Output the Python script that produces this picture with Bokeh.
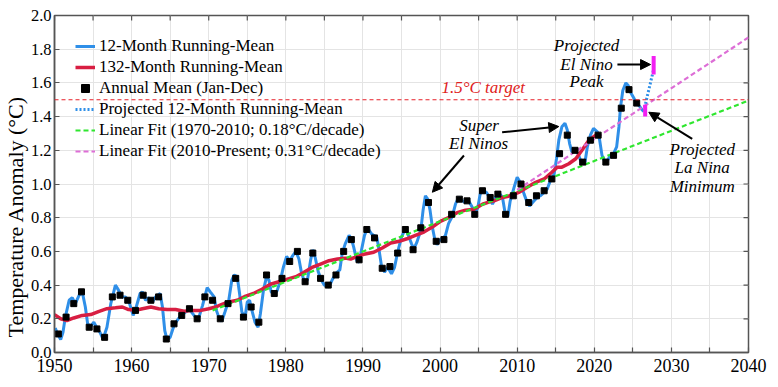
import math
from bokeh.plotting import figure
from bokeh.models import (Range1d, FixedTicker, PrintfTickFormatter, Title,
                          Label, Arrow, NormalHead, Span, Legend, LegendItem)
from bokeh.embed import file_html
from bokeh.resources import INLINE

# ---------------- data ----------------
years = list(range(1950, 2026))
annual_mean = [0.11, 0.21, 0.29, 0.36, 0.15, 0.14, 0.09, 0.33, 0.34, 0.31,
               0.25, 0.34, 0.31, 0.33, 0.08, 0.17, 0.22, 0.26, 0.20, 0.33,
               0.31, 0.20, 0.29, 0.44, 0.21, 0.27, 0.18, 0.46, 0.35, 0.44,
               0.54, 0.60, 0.42, 0.59, 0.44, 0.40, 0.46, 0.60, 0.67, 0.55,
               0.73, 0.68, 0.50, 0.51, 0.59, 0.73, 0.61, 0.74, 0.89, 0.66,
               0.67, 0.82, 0.91, 0.90, 0.82, 0.96, 0.92, 0.94, 0.82, 0.93,
               1.00, 0.89, 0.93, 0.96, 1.03, 1.18, 1.29, 1.20, 1.13, 1.26,
               1.29, 1.13, 1.17, 1.45, 1.56, 1.48]

run12_t = [1950.1, 1950.4, 1950.8, 1951.1, 1951.4, 1951.9, 1952.3, 1952.7, 1953.2, 1953.6,
           1954.0, 1954.3, 1954.7, 1955.1, 1955.5, 1955.9, 1956.3, 1956.8, 1957.3, 1957.9,
           1958.3, 1958.8, 1959.2, 1959.6, 1960.2, 1960.6, 1961.1, 1961.4, 1961.8, 1962.2,
           1962.7, 1963.1, 1963.7, 1964.0, 1964.3, 1964.6, 1965.0, 1965.5, 1965.9, 1966.4,
           1967.0, 1967.5, 1968.1, 1968.6, 1969.2, 1969.8, 1970.2, 1970.7, 1971.0, 1971.3,
           1971.7, 1972.1, 1972.6, 1973.0, 1973.3, 1973.7, 1974.0, 1974.3, 1974.7, 1975.0,
           1975.3, 1975.6, 1976.0, 1976.4, 1976.7, 1977.1, 1977.5, 1977.8, 1978.1, 1978.5,
           1978.9, 1979.3, 1979.7, 1980.1, 1980.5, 1980.9, 1981.3, 1981.7, 1982.0, 1982.4,
           1982.8, 1983.2, 1983.5, 1983.8, 1984.2, 1984.6, 1985.0, 1985.6, 1986.0, 1986.5,
           1987.0, 1987.3, 1987.7, 1988.2, 1988.5, 1988.8, 1989.2, 1989.5, 1989.8, 1990.2,
           1990.6, 1991.1, 1991.4, 1991.8, 1992.1, 1992.4, 1992.8, 1993.2, 1993.7, 1994.1,
           1994.5, 1995.0, 1995.5, 1995.9, 1996.3, 1996.6, 1997.0, 1997.5, 1997.8, 1998.1,
           1998.4, 1998.7, 1999.0, 1999.3, 1999.6, 1999.9, 2000.3, 2000.7, 2001.1, 2001.6,
           2002.0, 2002.4, 2002.9, 2003.3, 2003.7, 2004.2, 2004.5, 2004.9, 2005.2, 2005.6,
           2006.0, 2006.3, 2006.8, 2007.2, 2007.6, 2008.1, 2008.5, 2008.8, 2009.1, 2009.6,
           2010.0, 2010.4, 2010.9, 2011.3, 2011.6, 2012.2, 2012.6, 2013.0, 2013.5, 2013.9,
           2014.3, 2014.8, 2015.1, 2015.4, 2015.8, 2016.2, 2016.5, 2016.8, 2017.1, 2017.5,
           2017.9, 2018.3, 2018.8, 2019.1, 2019.5, 2019.9, 2020.4, 2020.7, 2021.0, 2021.4,
           2021.7, 2022.1, 2022.5, 2022.9, 2023.2, 2023.4, 2023.7, 2024.1, 2024.4, 2024.7,
           2025.2, 2025.6, 2025.9, 2026.2, 2026.4]
run12_v = [0.145, 0.11, 0.077, 0.12, 0.21, 0.31, 0.325, 0.29, 0.34, 0.36,
           0.27, 0.17, 0.155, 0.18, 0.146, 0.12, 0.08, 0.15, 0.29, 0.40,
           0.37, 0.33, 0.33, 0.31, 0.22, 0.27, 0.35, 0.36, 0.31, 0.325,
           0.30, 0.33, 0.35, 0.27, 0.13, 0.075, 0.09, 0.16, 0.19, 0.22,
           0.24, 0.255, 0.22, 0.19, 0.28, 0.385, 0.36, 0.33, 0.25, 0.21,
           0.185, 0.24, 0.31, 0.43, 0.46, 0.45, 0.35, 0.24, 0.21, 0.30,
           0.31, 0.25, 0.18, 0.15, 0.23, 0.37, 0.45, 0.43, 0.36, 0.34,
           0.37, 0.43, 0.51, 0.57, 0.545, 0.575, 0.60, 0.555, 0.48, 0.42,
           0.43, 0.545, 0.61, 0.565, 0.48, 0.43, 0.40, 0.39, 0.43, 0.47,
           0.49, 0.585, 0.645, 0.695, 0.675, 0.625, 0.545, 0.535, 0.605, 0.695,
           0.74, 0.705, 0.695, 0.685, 0.605, 0.515, 0.477, 0.506, 0.467, 0.506,
           0.595, 0.685, 0.735, 0.695, 0.645, 0.615, 0.655, 0.725, 0.845, 0.93,
           0.91, 0.845, 0.745, 0.675, 0.64, 0.665, 0.675, 0.695, 0.765, 0.81,
           0.88, 0.92, 0.90, 0.89, 0.90, 0.86, 0.82, 0.86, 0.94, 0.96,
           0.95, 0.93, 0.88, 0.92, 0.95, 0.92, 0.81, 0.81, 0.90, 0.98,
           1.04, 1.01, 0.94, 0.89, 0.87, 0.90, 0.92, 0.93, 0.95, 0.97,
           1.02, 1.06, 1.15, 1.26, 1.34, 1.36, 1.32, 1.24, 1.19, 1.20,
           1.18, 1.13, 1.13, 1.22, 1.29, 1.33, 1.31, 1.26, 1.17, 1.13,
           1.14, 1.17, 1.18, 1.22, 1.34, 1.455, 1.555, 1.60, 1.585, 1.545,
           1.505, 1.475, 1.46, 1.44, 1.43]

run132_t = [1950.0, 1950.8, 1951.6, 1952.5, 1953.6, 1954.7, 1955.7, 1956.8, 1957.9, 1958.8,
            1959.6, 1960.5, 1961.4, 1962.5, 1963.5, 1964.6, 1965.7, 1966.8, 1967.9, 1969.0,
            1970.0, 1970.9, 1971.7, 1972.6, 1973.7, 1974.8, 1975.8, 1976.9, 1978.0, 1979.1,
            1980.2, 1981.3, 1982.3, 1983.4, 1984.5, 1985.6, 1986.7, 1987.7, 1988.4, 1989.3,
            1990.3, 1991.4, 1992.5, 1993.6, 1994.7, 1995.7, 1996.8, 1997.9, 1999.0, 2000.1,
            2001.1, 2002.2, 2003.3, 2004.4, 2005.5, 2006.5, 2007.0, 2008.1, 2009.1, 2010.2,
            2011.3, 2012.4, 2013.5, 2014.5, 2015.2, 2015.8, 2016.7, 2017.6, 2018.4, 2019.3,
            2020.2, 2020.7]
run132_v = [0.225, 0.20, 0.19, 0.205, 0.22, 0.225, 0.243, 0.26, 0.265, 0.27,
            0.255, 0.25, 0.26, 0.27, 0.26, 0.255, 0.255, 0.245, 0.25, 0.25,
            0.26, 0.27, 0.285, 0.30, 0.31, 0.335, 0.35, 0.375, 0.405, 0.42,
            0.435, 0.45, 0.475, 0.505, 0.525, 0.545, 0.555, 0.56, 0.555, 0.57,
            0.585, 0.595, 0.62, 0.65, 0.66, 0.675, 0.695, 0.715, 0.745, 0.78,
            0.80, 0.83, 0.845, 0.85, 0.88, 0.895, 0.90, 0.92, 0.93, 0.95,
            0.98, 1.01, 1.03, 1.07, 1.10, 1.10, 1.12, 1.15, 1.20, 1.26,
            1.29, 1.30]

proj_t = [2026.4, 2027.7]
proj_v = [1.43, 1.68]
fit1970_t = [1970.5, 2040.0]
fit1970_v = [0.25, 1.495]
fit2010_t = [2010.0, 2040.0]
fit2010_v = [0.965, 1.87]
range_t = [2027.7, 2026.6]
range_lo = [1.65, 1.40]
range_hi = [1.76, 1.47]
target = 1.5

x_ticks = list(range(1950, 2041, 5))
x_labels = {t: ("" if t % 10 else str(t)) for t in x_ticks}
y_ticks = [0.0, 0.2, 0.4, 0.6, 0.8, 1.0, 1.2, 1.4, 1.6, 1.8, 2.0]
x_lo, x_hi = 1950, 2040
y_lo, y_hi = 0.0, 2.0

# ---------------- styling ----------------
SERIF = "Liberation Serif"
BLUE = "#2f8fe8"
RED = "#d81e42"
GREEN = "#2fe62f"
PINK = "#dd6ed6"
MAGENTA = "#f21ff2"
FRAME = "#555555"

p = figure(width=778, height=387, output_backend="svg", toolbar_location=None,
           x_range=Range1d(x_lo, x_hi), y_range=Range1d(y_lo, y_hi),
           min_border_left=54, min_border_right=30, min_border_top=15, min_border_bottom=35)
p.background_fill_color = "white"
p.border_fill_color = "white"
p.outline_line_color = FRAME
p.outline_line_width = 1.5

# axes
p.xaxis.ticker = FixedTicker(ticks=x_ticks)
p.xaxis.major_label_overrides = x_labels
p.yaxis.ticker = FixedTicker(ticks=y_ticks)
p.yaxis.formatter = PrintfTickFormatter(format="%.1f")
for ax in (p.xaxis, p.yaxis):
    ax.axis_line_color = FRAME
    ax.axis_line_width = 1.5
    ax.major_tick_line_color = FRAME
    ax.major_tick_line_width = 1.2
    ax.major_tick_in = 5
    ax.major_tick_out = 0
    ax.minor_tick_line_color = None
    ax.major_label_text_font = SERIF
    ax.major_label_text_color = "black"
p.xaxis.major_label_text_font_size = "18px"
p.yaxis.major_label_text_font_size = "16.5px"
p.xaxis.major_label_standoff = 6
p.yaxis.major_label_standoff = 3

# y-axis title, starting a little above the frame bottom as in the reference
p.add_layout(Title(text="Temperature Anomaly (°C)", align="left", offset=15,
                   text_font=SERIF, text_font_style="normal", text_font_size="22px",
                   text_color="black", standoff=-1), "left")

# grid
p.xgrid.ticker = FixedTicker(ticks=x_ticks)
p.ygrid.ticker = FixedTicker(ticks=y_ticks)
p.xgrid.grid_line_color = "#e4e4e4"
p.ygrid.grid_line_color = "#e4e4e4"

# inward tick marks on the top and right frame edges (half of each dash is clipped)
p.scatter(x_ticks, [y_hi] * len(x_ticks), marker="dash", angle=math.pi / 2, size=10,
          line_color=FRAME, line_width=1.2)
p.scatter([x_hi] * len(y_ticks), y_ticks, marker="dash", size=10,
          line_color=FRAME, line_width=1.2)

# target line
p.add_layout(Span(location=target, dimension="width", line_color="#e8202a",
                  line_width=1.2, line_dash="4 3"))

# series
r_blue = p.line(run12_t, run12_v, line_color=BLUE, line_width=3)
r_red = p.line(run132_t, run132_v, line_color=RED, line_width=3.5)
r_green = p.line(fit1970_t, fit1970_v, line_color=GREEN, line_width=2.2, line_dash="5 3")
r_pink = p.line(fit2010_t, fit2010_v, line_color=PINK, line_width=2.2, line_dash="5 3")
r_sq = p.scatter([y + 0.5 for y in years], annual_mean, marker="square", size=6,
                 fill_color="black", line_color="black")
r_proj = p.line(proj_t, proj_v, line_color=BLUE, line_width=3, line_dash="2 2")
p.segment(x0=range_t, y0=range_lo, x1=range_t, y1=range_hi, line_color=MAGENTA, line_width=4)

legend = Legend(items=[
    LegendItem(label="12-Month Running-Mean", renderers=[r_blue]),
    LegendItem(label="132-Month Running-Mean", renderers=[r_red]),
    LegendItem(label="Annual Mean (Jan-Dec)", renderers=[r_sq]),
    LegendItem(label="Projected 12-Month Running-Mean", renderers=[r_proj]),
    LegendItem(label="Linear Fit (1970-2010; 0.18°C/decade)", renderers=[r_green]),
    LegendItem(label="Linear Fit (2010-Present; 0.31°C/decade)", renderers=[r_pink]),
], location="top_left")
legend.margin = 20
legend.padding = 1
legend.spacing = 1
legend.glyph_width = 20
legend.glyph_height = 20
legend.label_height = 20
legend.label_standoff = 4
legend.label_text_font = SERIF
legend.label_text_font_size = "17px"
legend.label_text_color = "black"
legend.background_fill_alpha = 0
legend.border_line_alpha = 0
p.add_layout(legend)

# annotations
def note(x, y, txt, color="black"):
    p.add_layout(Label(x=x, y=y, text=txt, text_align="center", text_baseline="middle",
                       text_font=SERIF, text_font_style="italic", text_font_size="17px",
                       text_color=color))

note(2005.6, 1.57, "1.5°C target", "#e02020")
note(2005.05, 1.347, "Super")
note(2005.0, 1.240, "El Ninos")
note(2019.0, 1.822, "Projected")
note(2019.0, 1.712, "El Nino")
note(2019.0, 1.608, "Peak")
note(2034.0, 1.202, "Projected")
note(2034.0, 1.095, "La Nina")
note(2034.0, 0.985, "Minimum")

def arrow(x0, y0, x1, y1):
    p.add_layout(Arrow(end=NormalHead(size=10, fill_color="black", line_color="black"),
                       x_start=x0, y_start=y0, x_end=x1, y_end=y1,
                       line_color="black", line_width=2))

arrow(2008.05, 1.307, 2015.4, 1.341)
arrow(2003.1, 1.169, 1999.0, 0.951)
arrow(2023.0, 1.709, 2027.3, 1.709)
arrow(2032.7, 1.268, 2027.07, 1.426)

open("out.html", "w").write(file_html(p, INLINE))
